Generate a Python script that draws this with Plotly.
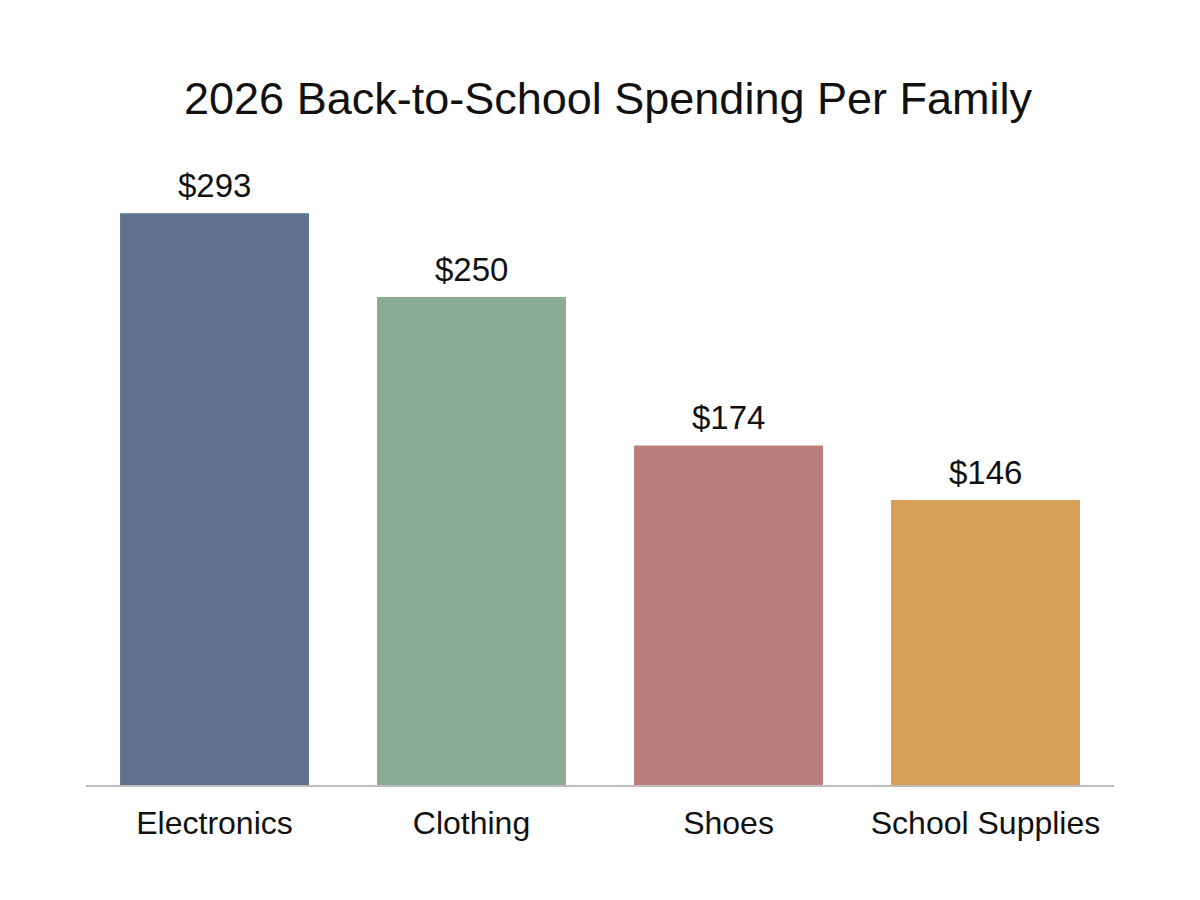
import plotly.graph_objects as go

# spending per family
categories = ["Electronics", "Clothing", "Shoes", "School Supplies"]
spending = [293, 250, 174, 146]
labels = ["$293", "$250", "$174", "$146"]
bar_colors = ["#5F718F", "#8BAC94", "#B97D7C", "#D6A05B"]

fig = go.Figure()
fig.add_trace(go.Bar(x=categories, y=spending, marker=dict(color=bar_colors, line=dict(width=0)),
                     hoverinfo="skip"))

# value labels sitting just above each bar
for cat, val, lab in zip(categories, spending, labels):
    fig.add_annotation(x=cat, y=val, text=lab, showarrow=False, yanchor="bottom", yshift=7,
                       font=dict(size=33, color="#111111"))

# page body adds 8px, so margins are trimmed by that much on left/top
fig.update_layout(
    title=dict(text="2026 Back-to-School Spending Per Family", x=0.5, xanchor="center",
               y=0.9, yanchor="middle", font=dict(size=45, color="#111111")),
    font=dict(family="Liberation Sans, Arial, sans-serif"),
    width=1200, height=900,
    margin=dict(l=78, r=94, t=133, b=123),
    plot_bgcolor="white", paper_bgcolor="white",
    bargap=0.265,
    showlegend=False,
)
fig.update_xaxes(showline=True, linecolor="#BDBDBD", linewidth=2, ticks="", ticklabelstandoff=9,
                 tickfont=dict(size=32, color="#111111"), range=[-0.5, 3.5])
fig.update_yaxes(visible=False, range=[0, 330], showgrid=False, zeroline=False)

fig.write_html("out.html")
